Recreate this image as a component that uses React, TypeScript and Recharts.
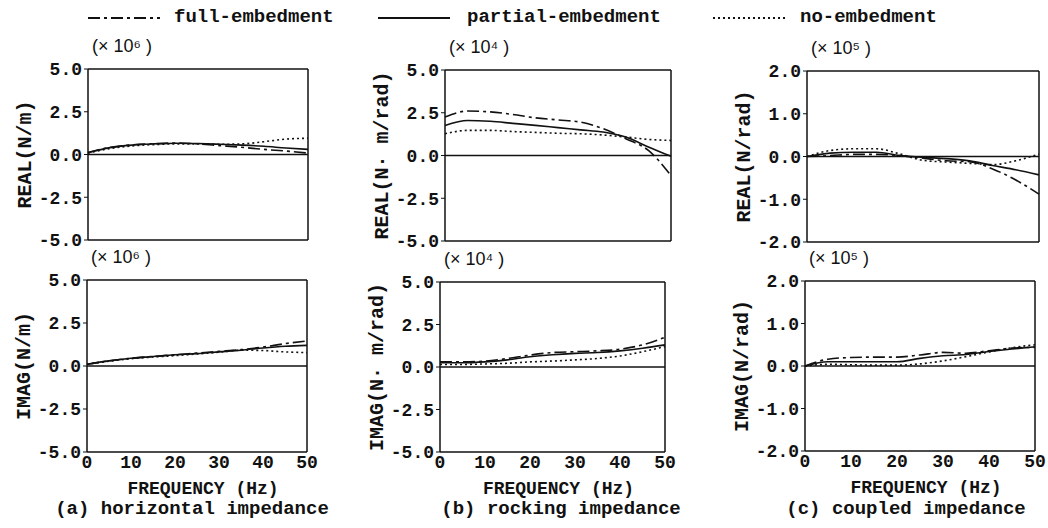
import { LineChart, Line, XAxis, YAxis, ReferenceLine } from "recharts";

const FREQ = [0, 5, 10, 15, 20, 25, 30, 35, 40, 45, 50];
const FREQ_TICKS = [0, 10, 20, 30, 40, 50];
const TICKS_5 = [-5, -2.5, 0, 2.5, 5];
const TICKS_2 = [-2, -1, 0, 1, 2];

const SERIES = [
  { key: "full", name: "full-embedment", dash: "12 4 3 4" },
  { key: "partial", name: "partial-embedment", dash: undefined },
  { key: "none", name: "no-embedment", dash: "2 3" },
];

// (a) horizontal impedance, x10^6 N/m
const H_REAL_FULL = [0.12, 0.42, 0.56, 0.63, 0.67, 0.62, 0.52, 0.42, 0.3, 0.2, 0.08];
const H_REAL_PARTIAL = [0.1, 0.4, 0.55, 0.62, 0.66, 0.64, 0.6, 0.55, 0.48, 0.38, 0.3];
const H_REAL_NONE = [0.08, 0.35, 0.5, 0.58, 0.62, 0.62, 0.6, 0.62, 0.75, 0.9, 0.95];
const H_IMAG_FULL = [0.1, 0.3, 0.45, 0.55, 0.65, 0.75, 0.85, 0.95, 1.1, 1.3, 1.45];
const H_IMAG_PARTIAL = [0.1, 0.3, 0.45, 0.55, 0.65, 0.72, 0.82, 0.92, 1.05, 1.15, 1.2];
const H_IMAG_NONE = [0.1, 0.28, 0.42, 0.52, 0.6, 0.7, 0.8, 0.92, 0.9, 0.82, 0.78];

// (b) rocking impedance, x10^4 N·m/rad
const R_REAL_FULL = [2.25, 2.6, 2.55, 2.4, 2.2, 2.08, 1.95, 1.57, 0.98, 0.3, -1.18];
const R_REAL_PARTIAL = [1.76, 2.05, 2.0, 1.88, 1.76, 1.63, 1.5, 1.37, 1.08, 0.5, -0.05];
const R_REAL_NONE = [1.27, 1.47, 1.47, 1.4, 1.35, 1.3, 1.27, 1.2, 1.08, 0.94, 0.88];
const R_IMAG_FULL = [0.3, 0.3, 0.35, 0.5, 0.7, 0.85, 0.9, 0.95, 1.05, 1.3, 1.75];
const R_IMAG_PARTIAL = [0.25, 0.25, 0.3, 0.42, 0.6, 0.72, 0.8, 0.85, 0.95, 1.1, 1.3];
const R_IMAG_NONE = [0.15, 0.15, 0.18, 0.22, 0.3, 0.35, 0.42, 0.5, 0.65, 0.9, 1.2];

// (c) coupled impedance, x10^5 N/rad
const C_REAL_FULL = [0, 0.02, 0.05, 0.05, 0.02, -0.04, -0.1, -0.12, -0.29, -0.55, -0.88];
const C_REAL_PARTIAL = [0, 0.08, 0.1, 0.1, 0.02, -0.02, -0.05, -0.1, -0.21, -0.31, -0.43];
const C_REAL_NONE = [0, 0.14, 0.18, 0.18, 0.06, -0.09, -0.13, -0.16, -0.19, -0.1, 0.06];
const C_IMAG_FULL = [0, 0.16, 0.2, 0.21, 0.21, 0.26, 0.32, 0.3, 0.36, 0.42, 0.44];
const C_IMAG_PARTIAL = [0, 0.1, 0.1, 0.1, 0.1, 0.18, 0.24, 0.27, 0.34, 0.4, 0.45];
const C_IMAG_NONE = [0, 0.04, 0.03, 0.02, 0.02, 0.05, 0.12, 0.22, 0.33, 0.43, 0.5];

const MONO = '"Liberation Mono", "DejaVu Sans Mono", monospace';
const INK = "#111";

const PANELS = [
  { left: 88, top: 69, w: 220, h: 171, ymax: 5, ticks: TICKS_5, label: "REAL(N/m)", unit: "6", bottom: false, vals: [H_REAL_FULL, H_REAL_PARTIAL, H_REAL_NONE] },
  { left: 87, top: 280, w: 220, h: 172, ymax: 5, ticks: TICKS_5, label: "IMAG(N/m)", unit: "6", bottom: true, vals: [H_IMAG_FULL, H_IMAG_PARTIAL, H_IMAG_NONE] },
  { left: 445, top: 70, w: 226, h: 171, ymax: 5, ticks: TICKS_5, label: "REAL(N· m/rad)", unit: "4", bottom: false, vals: [R_REAL_FULL, R_REAL_PARTIAL, R_REAL_NONE] },
  { left: 440, top: 282, w: 225, h: 170, ymax: 5, ticks: TICKS_5, label: "IMAG(N· m/rad)", unit: "4", bottom: true, vals: [R_IMAG_FULL, R_IMAG_PARTIAL, R_IMAG_NONE] },
  { left: 807, top: 71, w: 232, h: 171, ymax: 2, ticks: TICKS_2, label: "REAL(N/rad)", unit: "5", bottom: false, vals: [C_REAL_FULL, C_REAL_PARTIAL, C_REAL_NONE] },
  { left: 805, top: 281, w: 230, h: 170, ymax: 2, ticks: TICKS_2, label: "IMAG(N/rad)", unit: "5", bottom: true, vals: [C_IMAG_FULL, C_IMAG_PARTIAL, C_IMAG_NONE] },
];

const CAPTIONS = [
  { text: "(a) horizontal impedance", x: 192 },
  { text: "(b) rocking impedance", x: 561 },
  { text: "(c) coupled impedance", x: 906 },
];

const LEGEND_POS = [
  { line: 88, text: 174 },
  { line: 378, text: 467 },
  { line: 713, text: 800 },
];

const SUP: Record<string, string> = { "4": "\u2074", "5": "\u2075", "6": "\u2076" };

function Panel({ p }: { p: (typeof PANELS)[number] }) {
  const data = FREQ.map((f, i) => ({
    f,
    full: p.vals[0][i],
    partial: p.vals[1][i],
    none: p.vals[2][i],
  }));
  const xH = p.bottom ? 50 : 2;
  const mBottom = p.bottom ? 0 : 12;
  const tickStyle = { fontFamily: MONO, fontWeight: 700, fontSize: 18, fill: INK };

  return (
    <>
      <div
        style={{
          position: "absolute",
          left: p.left + 4,
          top: p.top - 33,
          fontFamily: '"Liberation Sans", Arial, sans-serif',
          fontSize: 18,
          color: INK,
          whiteSpace: "pre",
        }}
      >
        {`(× 10${SUP[p.unit]} )`}
      </div>
      <div style={{ position: "absolute", left: p.left - 80, top: p.top - 10 }}>
        <LineChart
          width={80 + p.w + 14}
          height={10 + p.h + xH + mBottom}
          data={data}
          margin={{ top: 10, right: 14, bottom: mBottom, left: 0 }}
        >
          <XAxis
            dataKey="f"
            type="number"
            domain={[0, 50]}
            ticks={FREQ_TICKS}
            height={xH}
            tick={p.bottom ? tickStyle : false}
            tickLine={false}
            tickSize={3}
            tickMargin={0}
            axisLine={{ stroke: INK, strokeWidth: 1.5 }}
            label={
              p.bottom
                ? {
                    value: "FREQUENCY (Hz)",
                    position: "insideBottom",
                    offset: 8,
                    dx: 6,
                    style: { fontFamily: MONO, fontWeight: 700, fontSize: 18, fill: INK },
                  }
                : undefined
            }
          />
          <YAxis
            type="number"
            domain={[-p.ymax, p.ymax]}
            ticks={p.ticks}
            width={80}
            interval={0}
            tickFormatter={(v: number) => v.toFixed(1)}
            tick={tickStyle}
            tickSize={4}
            tickMargin={2}
            tickLine={{ stroke: INK }}
            axisLine={{ stroke: INK, strokeWidth: 1.5 }}
            label={{
              value: p.label,
              angle: -90,
              position: "insideLeft",
              offset: 16,
              style: { textAnchor: "middle", fontFamily: MONO, fontWeight: 700, fontSize: 20, fill: INK },
            }}
          />
          <ReferenceLine y={p.ymax} stroke={INK} strokeWidth={1.5} />
          <ReferenceLine x={50} stroke={INK} strokeWidth={1.5} />
          <ReferenceLine y={0} stroke={INK} strokeWidth={1.5} />
          {SERIES.map((s) => (
            <Line
              key={s.key}
              dataKey={s.key}
              name={s.name}
              type="monotone"
              stroke={INK}
              strokeWidth={1.6}
              strokeDasharray={s.dash}
              dot={false}
              isAnimationActive={false}
            />
          ))}
        </LineChart>
      </div>
    </>
  );
}

export default function App() {
  return (
    <div
      style={{
        position: "absolute",
        left: 0,
        top: 0,
        width: 1048,
        height: 528,
        background: "#fff",
        overflow: "hidden",
      }}
    >
      {SERIES.map((s, i) => (
        <div key={s.key}>
          <svg
            width={72}
            height={6}
            style={{ position: "absolute", left: LEGEND_POS[i].line, top: 15 }}
          >
            <line x1={0} y1={3} x2={72} y2={3} stroke={INK} strokeWidth={2} strokeDasharray={s.dash} />
          </svg>
          <div
            style={{
              position: "absolute",
              left: LEGEND_POS[i].text,
              top: 6,
              fontFamily: MONO,
              fontWeight: 700,
              fontSize: 19,
              color: INK,
            }}
          >
            {s.name}
          </div>
        </div>
      ))}
      {PANELS.map((p, i) => (
        <Panel key={i} p={p} />
      ))}
      {CAPTIONS.map((c) => (
        <div
          key={c.text}
          style={{
            position: "absolute",
            left: c.x,
            top: 498,
            transform: "translateX(-50%)",
            fontFamily: MONO,
            fontWeight: 700,
            fontSize: 19,
            color: INK,
            whiteSpace: "nowrap",
          }}
        >
          {c.text}
        </div>
      ))}
    </div>
  );
}
